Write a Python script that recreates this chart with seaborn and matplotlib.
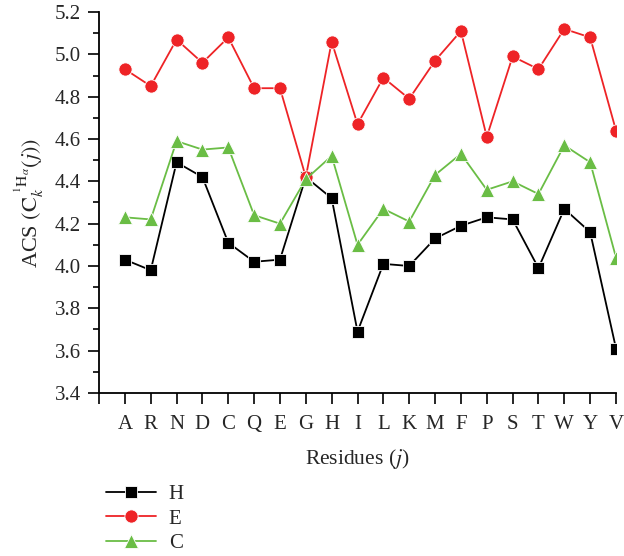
import matplotlib
matplotlib.use('Agg')

import numpy as np
import matplotlib.pyplot as plt
from matplotlib.ticker import MultipleLocator, FormatStrFormatter
import seaborn as sns

# residues on the x axis
residues = ["A", "R", "N", "D", "C", "Q", "E", "G", "H", "I",
            "L", "K", "M", "F", "P", "S", "T", "W", "Y", "V"]

# ACS values per secondary structure class
acs_h = [4.03, 3.98, 4.49, 4.42, 4.11, 4.02, 4.03, 4.42, 4.32, 3.69,
         4.01, 4.00, 4.13, 4.19, 4.23, 4.22, 3.99, 4.27, 4.16, 3.61]
acs_e = [4.93, 4.85, 5.07, 4.96, 5.08, 4.84, 4.84, 4.42, 5.06, 4.67,
         4.89, 4.79, 4.97, 5.11, 4.61, 4.99, 4.93, 5.12, 5.08, 4.64]
acs_c = [4.23, 4.22, 4.59, 4.55, 4.56, 4.24, 4.20, 4.41, 4.52, 4.10,
         4.27, 4.21, 4.43, 4.53, 4.36, 4.40, 4.34, 4.57, 4.49, 4.04]

sns.set_style("ticks")
plt.rcParams['font.family'] = ['Liberation Serif', 'DejaVu Serif']
plt.rcParams['mathtext.fontset'] = 'stix'

fig = plt.figure(figsize=(6.24, 5.56), dpi=100)
ax = fig.add_axes([0.1587, 0.2932, 0.8285, 0.6852])

x = np.arange(len(residues))
series = [
    ("H", acs_h, "black", "s", 8.5),
    ("E", acs_e, "#ee2326", "o", 9.5),
    ("C", acs_c, "#6abd45", "^", 10),
]
for name, vals, col, mk, ms in series:
    sns.lineplot(x=x, y=vals, ax=ax, color=col, marker=mk, markersize=ms,
                 markeredgecolor="white", markeredgewidth=0.6,
                 linewidth=1.3, sort=False, label=name, legend=False)

# extra blank tick at the left edge, like the original
ax.set_xlim(-1, len(residues) - 1)
ax.set_ylim(3.4, 5.2)
ax.set_xticks(np.arange(-1, len(residues)))
ax.set_xticklabels([""] + residues)
ax.yaxis.set_major_locator(MultipleLocator(0.2))
ax.yaxis.set_minor_locator(MultipleLocator(0.1))
ax.yaxis.set_major_formatter(FormatStrFormatter("%.1f"))

ax.tick_params(axis="both", which="major", direction="out", length=8,
               width=1.2, labelsize=15, color="black", pad=5)
ax.tick_params(axis="y", which="minor", direction="out", length=4,
               width=1.2, color="black")
ax.tick_params(axis="x", pad=8)

sns.despine(ax=ax)
for s in ["left", "bottom"]:
    ax.spines[s].set_linewidth(1.3)
    ax.spines[s].set_color("black")

ax.set_xlabel(r"Residues ($j$)", fontsize=15.5, labelpad=9)
ax.set_ylabel(r"ACS $(\mathrm{C}_k^{\ {}^{1}\mathrm{H}_{\alpha}}(j))$",
              fontsize=16, labelpad=6)

handles, labels = ax.get_legend_handles_labels()
fig.legend(handles, labels, loc="upper left",
           bbox_to_anchor=(98 / 624, 1 - 476 / 556), frameon=False,
           fontsize=15, handlelength=2.4, labelspacing=0.25,
           handletextpad=0.6, borderaxespad=0)

fig.savefig("out.png", dpi=100)
plt.close(fig)
